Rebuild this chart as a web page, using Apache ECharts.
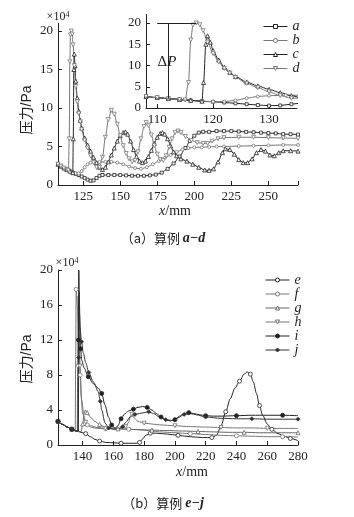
<!DOCTYPE html>
<html><head><meta charset="utf-8">
<script src="https://cdn.jsdelivr.net/npm/echarts@6/dist/echarts.min.js"></script>
<style>html,body{margin:0;padding:0;background:#fff}#c{width:354px;height:517px}</style>
</head><body><div id="c"></div>
<script>
// ---------- data (a) ----------
const namesA = ['a','b','c','d'];
const aData = [[108,2.7],[110,2.45],[112,2.2],[114,2.0],[116,1.8],[118,1.6],[120,1.45],[122,1.3],[124,1.1],[126,0.9],[128,0.7],[130,0.55],[132,0.6],[134,0.9],[136,1.2],[138,1.3],[142,1.3],[146,1.3],[150,1.3],[154,1.25],[158,1.2],[162,1.2],[166,1.2],[170,1.25],[174,1.35],[178,1.6],[182,2.1],[186,2.8],[190,3.7],[194,4.8],[197,5.7],[200,6.4],[203,6.8],[206,6.9],[210,6.9],[215,7.0],[220,7.0],[225,7.0],[230,6.95],[235,6.9],[240,6.85],[245,6.8],[250,6.75],[255,6.7],[260,6.6],[265,6.6],[270,6.55]];
const bData = [[108,2.7],[110,2.45],[112,2.2],[114,2.0],[116,1.8],[118,1.6],[120,1.5],[122,1.5],[124,1.8],[126,2.3],[128,2.7],[130,2.9],[133,3.0],[136,3.0],[140,3.0],[144,3.0],[148,2.9],[152,2.7],[156,2.4],[160,2.2],[164,2.1],[168,2.3],[172,2.7],[176,3.1],[180,3.5],[184,3.9],[188,4.3],[192,4.6],[196,4.8],[200,4.9],[205,4.9],[210,4.95],[215,5.0],[220,5.0],[230,5.05],[240,5.1],[250,5.15],[260,5.2],[270,5.2]];
const cData = [[108,2.7],[110,2.45],[112,2.2],[114,2.0],[116,1.8],[118,1.6],[118.3,6],[118.7,15],[119,17],[119.5,15.5],[120,13.5],[121,11.3],[122,9.6],[123,8.4],[124,7.4],[126,6.1],[128,5.2],[130,4.4],[132,3.6],[134,2.9],[136,2.3],[138,2.0],[140,2.3],[142,3.0],[144,3.9],[146,4.8],[148,5.7],[150,6.4],[152,6.8],[153.5,6.9],[155,6.6],[157,5.7],[159,4.6],[161,3.7],[163,3.1],[165,2.9],[167,3.1],[169,3.7],[171,4.5],[173,5.4],[175,6.2],[177,6.7],[178.5,6.8],[180,6.6],[182,6.0],[184,5.1],[186,4.3],[188,3.8],[191,3.4],[195,3.1],[199,2.7],[203,2.3],[207,1.95],[210,1.9],[213,2.1],[216,3.0],[219,4.2],[221,4.7],[224,4.6],[227,4.0],[230,3.3],[233,2.9],[236,2.9],[239,3.4],[242,4.2],[245,4.6],[248,4.4],[251,3.9],[254,3.8],[257,4.2],[260,4.45],[265,4.45],[270,4.4]];
const dData = [[108,2.7],[110,2.45],[112,2.2],[114,2.0],[115,1.9],[115.6,6],[116,16],[116.4,19.5],[117,20],[117.6,19.6],[118.2,18.2],[119,15.5],[120,12.8],[121,10.8],[122,9.3],[123,8.2],[124,7.2],[126,5.8],[128,4.8],[130,3.8],[132,2.9],[134,2.3],[136,2.3],[138,3.6],[140,6.2],[142,8.5],[144,9.7],[146,9.2],[148,7.9],[150,6.4],[152,5.1],[154,4.1],[156,3.4],[158,3.0],[160,3.2],[162,4.3],[164,6.0],[166,7.6],[167.5,8.1],[169,7.7],[171,6.5],[173,5.1],[175,4.0],[177,3.3],[179,3.2],[181,3.8],[183,4.9],[185,6.0],[187,6.8],[189,7.0],[191,6.8],[194,6.3],[198,5.8],[202,5.5],[206,5.4],[209,5.4],[212,5.7],[216,6.0],[220,6.15],[230,6.2],[240,6.2],[250,6.15],[260,6.1],[270,6.05]];

// ---------- data (b) ----------
const namesB = ['e','f','g','h','i','j'];
const eData = [[124,2.7],[127,2.35],[130,2.05],[133,1.8],[136,1.6],[139,1.45],[142,1.3],[145,0.95],[148,0.65],[151,0.45],[155,0.3],[160,0.25],[165,0.2],[170,0.2],[175,0.2],[177,0.3],[179,0.7],[181,1.1],[184,1.35],[188,1.35],[195,1.25],[202,1.1],[210,0.95],[218,0.85],[224,0.85],[227,1.1],[230,2.2],[233,3.8],[236,5.3],[239,6.5],[242,7.3],[245,8.1],[247,8.35],[249,8.1],[251,7.2],[253,5.9],[255,4.5],[257,3.4],[260,2.4],[263,1.8],[267,1.3],[271,1.0],[275,0.75],[280,0.5]];
const fData = [[124,2.7],[127,2.35],[130,2.05],[133,1.8],[135.2,1.6],[135.5,10],[135.8,17.8],[136.5,16],[137.5,12.6],[138.5,8],[139.5,5],[141,3],[143,2.3],[146,2.0],[150,1.9],[155,1.85],[160,1.85],[165,1.85],[170,1.8],[175,1.75],[180,1.7],[185,1.6],[190,1.5],[200,1.4],[210,1.3],[220,1.2],[230,1.1],[240,1.05],[250,1.0],[260,0.95],[270,0.95],[280,0.9]];
const gData = [[124,2.7],[127,2.35],[130,2.05],[133,1.8],[136,1.6],[139,1.5],[140,2.4],[141,3.6],[141.8,4.0],[143,3.7],[145,3.2],[148,2.7],[151,2.35],[154,2.1],[158,1.95],[163,1.85],[170,1.8],[178,1.75],[185,1.7],[195,1.65],[205,1.6],[215,1.55],[225,1.5],[235,1.45],[245,1.45],[255,1.4],[265,1.4],[280,1.4]];
const hData = [[124,2.7],[127,2.35],[130,2.05],[133,1.8],[136,1.6],[136.5,1.6],[136.8,9],[137.1,17],[137.6,14],[138.3,9],[139,5.5],[140,3.6],[142,2.6],[145,2.2],[150,2.0],[155,1.9],[160,1.9],[165,1.95],[168,2.1],[170,2.6],[171,3.3],[172,3.5],[173.5,3.1],[176,2.7],[180,2.5],[185,2.4],[190,2.3],[200,2.2],[210,2.1],[220,2.05],[230,2.0],[240,1.95],[250,1.95],[260,1.9],[270,1.9],[280,1.9]];
const iData = [[124,2.7],[127,2.35],[130,2.05],[133,1.8],[136,1.6],[137,1.6],[137.3,12],[137.5,20],[138,15],[138.7,11],[139.4,9.7],[141,8.8],[143.7,7.8],[147,7.0],[150.2,6.5],[152.4,5.9],[154.5,4.6],[156.8,3.2],[158.9,2.3],[161,1.9],[163,2.2],[165,3.0],[167,3.5],[170,3.9],[173,4.1],[176,4.3],[179,4.4],[182,4.3],[185,4.0],[188,3.6],[191,3.2],[194,2.9],[197,2.75],[200,2.9],[203,3.3],[206,3.6],[209,3.7],[212,3.6],[216,3.45],[220,3.35],[225,3.3],[230,3.3],[240,3.35],[250,3.4],[260,3.4],[270,3.4],[280,3.35]];
const jData = [[124,2.7],[127,2.35],[130,2.05],[133,1.8],[136,1.6],[137.2,1.6],[137.5,10],[137.8,17.5],[138.3,13.5],[139.3,11.8],[140.5,10.5],[142,9.4],[144,8.3],[147,7.2],[150.2,6.1],[151.5,5.0],[152.4,4.0],[154.6,2.5],[157,1.95],[160,1.8],[163,1.8],[166,2.1],[168,2.6],[171,3.2],[174,3.5],[177,3.6],[180,3.7],[183,3.8],[186,3.6],[190,3.2],[194,2.9],[198,2.8],[202,3.1],[206,3.5],[210,3.6],[214,3.45],[220,3.2],[230,3.05],[240,3.0],[250,3.0],[260,2.95],[270,2.95],[280,2.95]];

// ---------- tick values ----------
const ticksAx = [125,150,175,200,225,250];
const ticksAy = [0,5,10,15,20];
const ticksInsetX = [110,120,130];
const ticksInsetY = [0,5,10,15,20];
const ticksBx = [140,160,180,200,220,240,260,280];
const ticksBy = [0,4,8,12,16,20];

// ---------- styling ----------
const SERIF = '"Liberation Serif","Times New Roman",serif';
const INK = '#222';
const TRI_DOWN = 'path://M0,0L10,0L5,9Z';
const styleMap = {
  a:{color:'#222', symbol:'rect', size:3},
  b:{color:'#777', symbol:'circle', size:3},
  c:{color:'#222', symbol:'triangle', size:4},
  d:{color:'#777', symbol:TRI_DOWN, size:4},
  e:{color:'#222', symbol:'circle', size:4},
  f:{color:'#777', symbol:'circle', size:4},
  g:{color:'#666', symbol:'triangle', size:4},
  h:{color:'#777', symbol:TRI_DOWN, size:4},
  i:{color:'#222', symbol:'circle', size:4, filled:true},
  j:{color:'#333', symbol:'diamond', size:4, filled:true}
};
const dataMap = {a:aData,b:bData,c:cData,d:dData,e:eData,f:fData,g:gData,h:hData,i:iData,j:jData};

function xAxis(gi, min, max, labels, ticks){
  return {type:'value', gridIndex:gi, min, max,
    axisLine:{show:true, onZero:false, lineStyle:{color:INK, width:1}},
    axisTick:{show:true, inside:true, length:4, customValues:ticks, lineStyle:{color:INK}},
    axisLabel:{customValues:labels, color:INK, fontFamily:SERIF, fontSize:13, margin:5},
    splitLine:{show:false}};
}
function yAxis(gi, min, max, labels, ticks){
  return {type:'value', gridIndex:gi, min, max,
    axisLine:{show:true, onZero:false, lineStyle:{color:INK, width:1}},
    axisTick:{show:true, inside:true, length:4, customValues:ticks, lineStyle:{color:INK}},
    axisLabel:{customValues:labels, color:INK, fontFamily:SERIF, fontSize:13, margin:5},
    splitLine:{show:false}};
}

function makeSeries(name, axisIdx, markerStep){
  const st = styleMap[name];
  const src = dataMap[name];
  const data = src.map((p, k) => (markerStep > 1 && k % markerStep !== 0) ? {value:p, symbol:'none'} : {value:p});
  return {
    type:'line', name, xAxisIndex:axisIdx, yAxisIndex:axisIdx,
    data, smooth:0.3, smoothMonotone:'x', clip:true,
    symbol:st.symbol, symbolSize:st.size, showSymbol:true,
    lineStyle:{color:st.color, width:1},
    itemStyle:{color: st.filled ? st.color : '#fff', borderColor:st.color, borderWidth:0.8},
    emphasis:{disabled:true}, animation:false, z: 2
  };
}

const series = [];
namesA.forEach(n => series.push(makeSeries(n, 0, 1)));
namesA.forEach(n => {
  const s = makeSeries(n, 1, 1);
  if (n === 'd') {
    s.markLine = {silent:true, symbol:'none', label:{show:false},
      lineStyle:{color:INK, width:1, type:'solid'}, animation:false,
      data:[[{coord:[110,20]},{coord:[117,20]}],[{coord:[112,20]},{coord:[112,2.2]}]]};
  }
  series.push(s);
});
namesB.forEach(n => series.push(makeSeries(n, 2, 3)));

const legendCommon = {orient:'vertical', itemWidth:24, itemHeight:5, itemGap:0,
  selectedMode:false,
  lineStyle:{width:1}, itemStyle:{borderWidth:1},
  textStyle:{fontFamily:SERIF, fontStyle:'italic', fontSize:14, lineHeight:13, color:INK}};

const txt = (x, y, text, extra) => ({type:'text', x, y, silent:true,
  style:Object.assign({text, fill:INK, fontFamily:SERIF, fontSize:14, align:'center', verticalAlign:'middle'}, extra||{})});

const option = {
  animation:false,
  backgroundColor:'#fff',
  grid:[
    {left:58, top:23.3, width:240, height:161.7},
    {left:146, top:14.5, width:151, height:93.5},
    {left:58, top:270, width:240, height:175}
  ],
  xAxis:[xAxis(0,108,270,ticksAx,ticksAx.concat([270])), xAxis(1,108,135,ticksInsetX,ticksInsetX), xAxis(2,124,280,ticksBx,ticksBx)],
  yAxis:[yAxis(0,0,21,ticksAy,ticksAy), yAxis(1,0,22,ticksInsetY,ticksInsetY), yAxis(2,0,20,ticksBy,ticksBy)],
  legend:[
    Object.assign({}, legendCommon, {data:namesA, left:258, top:14.5}),
    Object.assign({}, legendCommon, {data:namesB, left:260, top:268, textStyle:Object.assign({}, legendCommon.textStyle, {lineHeight:14})})
  ],
  series,
  graphic:[
    txt(58, 17, '×10{s|4}', {fontSize:12, rich:{s:{fontSize:8, verticalAlign:'top', fontFamily:SERIF, fill:INK}}}),
    txt(27, 110, '压力/Pa', {fontFamily:'"Liberation Sans","Noto Sans CJK SC",sans-serif', fontSize:14}),
    txt(175, 211, '{i|x}/mm', {rich:{i:{fontStyle:'italic', fontFamily:SERIF, fontSize:14, fill:INK}}}),
    txt(163, 238, '（a）算例 {i|a−d}', {fontFamily:'"Noto Sans CJK SC",sans-serif', fontSize:13, rich:{i:{fontStyle:'italic', fontWeight:'bold', fontFamily:SERIF, fontSize:14, fill:INK}}}),
    txt(167, 62, 'Δ{i|P}', {fontSize:15, rich:{i:{fontStyle:'italic', fontFamily:SERIF, fontSize:15, fill:INK}}}),
    txt(67, 263, '×10{s|4}', {fontSize:12, rich:{s:{fontSize:8, verticalAlign:'top', fontFamily:SERIF, fill:INK}}}),
    txt(27, 359, '压力/Pa', {fontFamily:'"Liberation Sans","Noto Sans CJK SC",sans-serif', fontSize:14}),
    txt(192, 472, '{i|x}/mm', {rich:{i:{fontStyle:'italic', fontFamily:SERIF, fontSize:14, fill:INK}}}),
    txt(163, 503, '（b）算例 {i|e−j}', {fontFamily:'"Noto Sans CJK SC",sans-serif', fontSize:13, rich:{i:{fontStyle:'italic', fontWeight:'bold', fontFamily:SERIF, fontSize:14, fill:INK}}})
  ]
};
option.graphic[1].rotation = Math.PI/2;
option.graphic[6].rotation = Math.PI/2;

const chart = echarts.init(document.getElementById('c'), null, {renderer:'canvas'});
chart.setOption(option);
</script></body></html>
